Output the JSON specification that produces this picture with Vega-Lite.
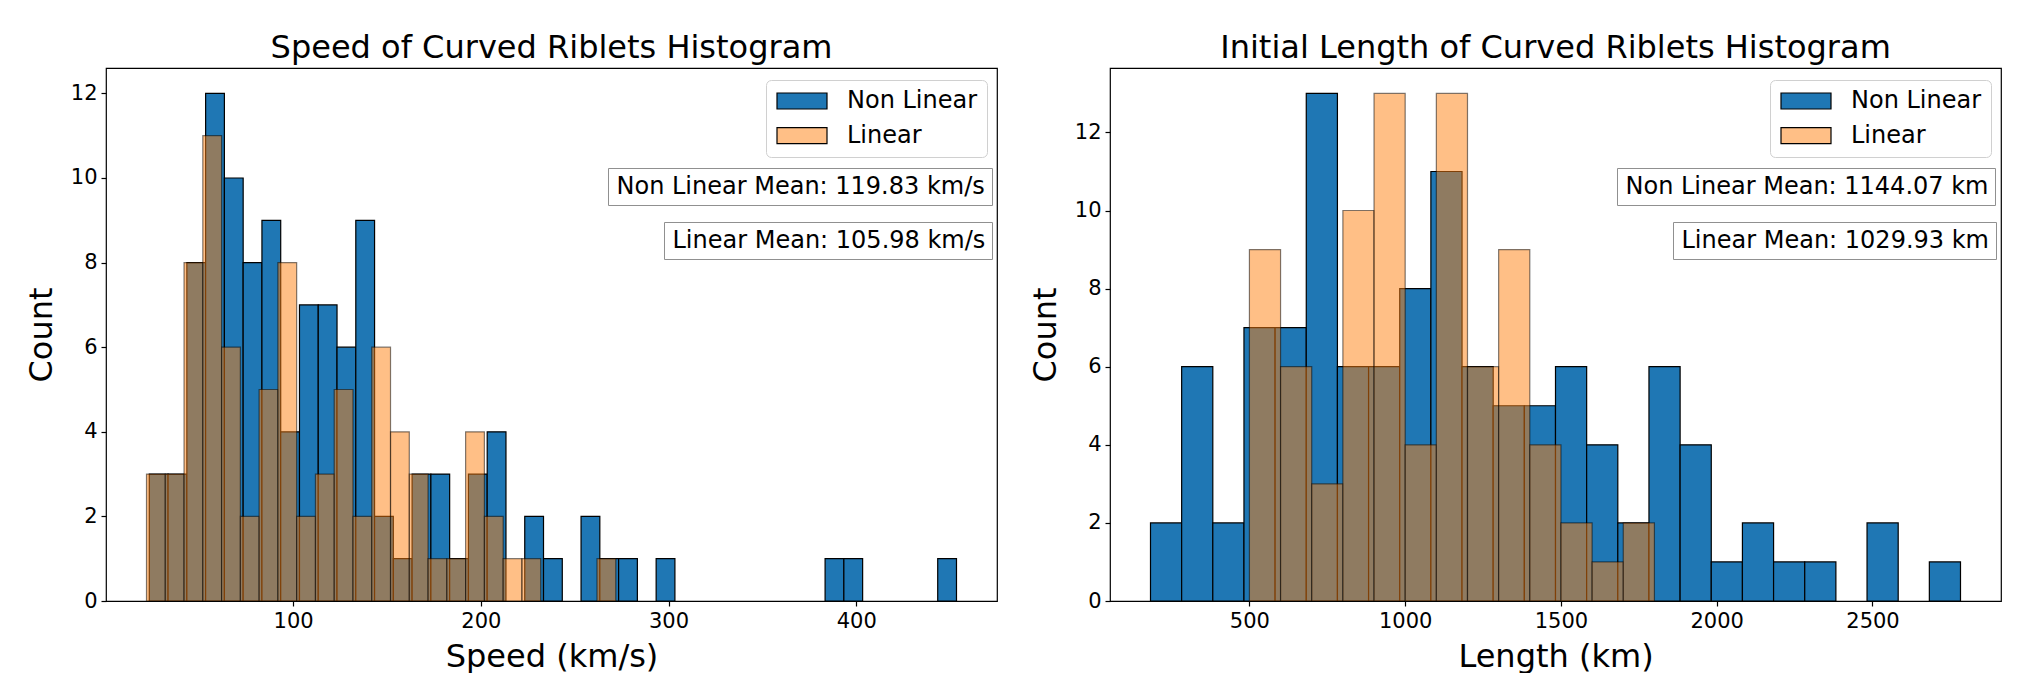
{
  "$schema": "https://vega.github.io/schema/vega-lite/v6.json",
  "background": "white",
  "padding": {"left": 24, "top": 31, "right": 10, "bottom": 0},
  "spacing": 30,
  "resolve": {"scale": {"color": "independent", "stroke": "independent", "shape": "independent"}, "legend": {"color": "independent", "stroke": "independent", "shape": "independent"}},
  "datasets": {
    "speed_nl": [
      {"series": "Non Linear", "bin_start": 23.4, "bin_end": 33.4, "count": 3},
      {"series": "Non Linear", "bin_start": 33.4, "bin_end": 43.4, "count": 3},
      {"series": "Non Linear", "bin_start": 43.4, "bin_end": 53.4, "count": 8},
      {"series": "Non Linear", "bin_start": 53.4, "bin_end": 63.4, "count": 12},
      {"series": "Non Linear", "bin_start": 63.4, "bin_end": 73.4, "count": 10},
      {"series": "Non Linear", "bin_start": 73.4, "bin_end": 83.4, "count": 8},
      {"series": "Non Linear", "bin_start": 83.4, "bin_end": 93.4, "count": 9},
      {"series": "Non Linear", "bin_start": 93.4, "bin_end": 103.4, "count": 4},
      {"series": "Non Linear", "bin_start": 103.4, "bin_end": 113.4, "count": 7},
      {"series": "Non Linear", "bin_start": 113.4, "bin_end": 123.4, "count": 7},
      {"series": "Non Linear", "bin_start": 123.4, "bin_end": 133.4, "count": 6},
      {"series": "Non Linear", "bin_start": 133.4, "bin_end": 143.4, "count": 9},
      {"series": "Non Linear", "bin_start": 143.4, "bin_end": 153.4, "count": 2},
      {"series": "Non Linear", "bin_start": 153.4, "bin_end": 163.4, "count": 1},
      {"series": "Non Linear", "bin_start": 163.4, "bin_end": 173.4, "count": 3},
      {"series": "Non Linear", "bin_start": 173.4, "bin_end": 183.4, "count": 3},
      {"series": "Non Linear", "bin_start": 183.4, "bin_end": 193.4, "count": 1},
      {"series": "Non Linear", "bin_start": 193.4, "bin_end": 203.4, "count": 3},
      {"series": "Non Linear", "bin_start": 203.4, "bin_end": 213.4, "count": 4},
      {"series": "Non Linear", "bin_start": 223.4, "bin_end": 233.4, "count": 2},
      {"series": "Non Linear", "bin_start": 233.4, "bin_end": 243.4, "count": 1},
      {"series": "Non Linear", "bin_start": 253.4, "bin_end": 263.4, "count": 2},
      {"series": "Non Linear", "bin_start": 263.4, "bin_end": 273.4, "count": 1},
      {"series": "Non Linear", "bin_start": 273.4, "bin_end": 283.4, "count": 1},
      {"series": "Non Linear", "bin_start": 293.4, "bin_end": 303.4, "count": 1},
      {"series": "Non Linear", "bin_start": 383.4, "bin_end": 393.4, "count": 1},
      {"series": "Non Linear", "bin_start": 393.4, "bin_end": 403.4, "count": 1},
      {"series": "Non Linear", "bin_start": 443.4, "bin_end": 453.4, "count": 1}
    ],
    "speed_l": [
      {"series": "Linear", "bin_start": 21.9, "bin_end": 31.9, "count": 3},
      {"series": "Linear", "bin_start": 31.9, "bin_end": 41.9, "count": 3},
      {"series": "Linear", "bin_start": 41.9, "bin_end": 51.9, "count": 8},
      {"series": "Linear", "bin_start": 51.9, "bin_end": 61.9, "count": 11},
      {"series": "Linear", "bin_start": 61.9, "bin_end": 71.9, "count": 6},
      {"series": "Linear", "bin_start": 71.9, "bin_end": 81.9, "count": 2},
      {"series": "Linear", "bin_start": 81.9, "bin_end": 91.9, "count": 5},
      {"series": "Linear", "bin_start": 91.9, "bin_end": 101.9, "count": 8},
      {"series": "Linear", "bin_start": 101.9, "bin_end": 111.9, "count": 2},
      {"series": "Linear", "bin_start": 111.9, "bin_end": 121.9, "count": 3},
      {"series": "Linear", "bin_start": 121.9, "bin_end": 131.9, "count": 5},
      {"series": "Linear", "bin_start": 131.9, "bin_end": 141.9, "count": 2},
      {"series": "Linear", "bin_start": 141.9, "bin_end": 151.9, "count": 6},
      {"series": "Linear", "bin_start": 151.9, "bin_end": 161.9, "count": 4},
      {"series": "Linear", "bin_start": 161.9, "bin_end": 171.9, "count": 3},
      {"series": "Linear", "bin_start": 171.9, "bin_end": 181.9, "count": 1},
      {"series": "Linear", "bin_start": 181.9, "bin_end": 191.9, "count": 1},
      {"series": "Linear", "bin_start": 191.9, "bin_end": 201.9, "count": 4},
      {"series": "Linear", "bin_start": 201.9, "bin_end": 211.9, "count": 2},
      {"series": "Linear", "bin_start": 211.9, "bin_end": 221.9, "count": 1},
      {"series": "Linear", "bin_start": 221.9, "bin_end": 231.9, "count": 1},
      {"series": "Linear", "bin_start": 261.9, "bin_end": 271.9, "count": 1}
    ],
    "length_nl": [
      {"series": "Non Linear", "bin_start": 182.5, "bin_end": 282.5, "count": 2},
      {"series": "Non Linear", "bin_start": 282.5, "bin_end": 382.5, "count": 6},
      {"series": "Non Linear", "bin_start": 382.5, "bin_end": 482.5, "count": 2},
      {"series": "Non Linear", "bin_start": 482.5, "bin_end": 582.5, "count": 7},
      {"series": "Non Linear", "bin_start": 582.5, "bin_end": 682.5, "count": 7},
      {"series": "Non Linear", "bin_start": 682.5, "bin_end": 782.5, "count": 13},
      {"series": "Non Linear", "bin_start": 782.5, "bin_end": 882.5, "count": 6},
      {"series": "Non Linear", "bin_start": 882.5, "bin_end": 982.5, "count": 6},
      {"series": "Non Linear", "bin_start": 982.5, "bin_end": 1082.5, "count": 8},
      {"series": "Non Linear", "bin_start": 1082.5, "bin_end": 1182.5, "count": 11},
      {"series": "Non Linear", "bin_start": 1182.5, "bin_end": 1282.5, "count": 6},
      {"series": "Non Linear", "bin_start": 1282.5, "bin_end": 1382.5, "count": 5},
      {"series": "Non Linear", "bin_start": 1382.5, "bin_end": 1482.5, "count": 5},
      {"series": "Non Linear", "bin_start": 1482.5, "bin_end": 1582.5, "count": 6},
      {"series": "Non Linear", "bin_start": 1582.5, "bin_end": 1682.5, "count": 4},
      {"series": "Non Linear", "bin_start": 1682.5, "bin_end": 1782.5, "count": 2},
      {"series": "Non Linear", "bin_start": 1782.5, "bin_end": 1882.5, "count": 6},
      {"series": "Non Linear", "bin_start": 1882.5, "bin_end": 1982.5, "count": 4},
      {"series": "Non Linear", "bin_start": 1982.5, "bin_end": 2082.5, "count": 1},
      {"series": "Non Linear", "bin_start": 2082.5, "bin_end": 2182.5, "count": 2},
      {"series": "Non Linear", "bin_start": 2182.5, "bin_end": 2282.5, "count": 1},
      {"series": "Non Linear", "bin_start": 2282.5, "bin_end": 2382.5, "count": 1},
      {"series": "Non Linear", "bin_start": 2482.5, "bin_end": 2582.5, "count": 2},
      {"series": "Non Linear", "bin_start": 2682.5, "bin_end": 2782.5, "count": 1}
    ],
    "length_l": [
      {"series": "Linear", "bin_start": 500, "bin_end": 600, "count": 9},
      {"series": "Linear", "bin_start": 600, "bin_end": 700, "count": 6},
      {"series": "Linear", "bin_start": 700, "bin_end": 800, "count": 3},
      {"series": "Linear", "bin_start": 800, "bin_end": 900, "count": 10},
      {"series": "Linear", "bin_start": 900, "bin_end": 1000, "count": 13},
      {"series": "Linear", "bin_start": 1000, "bin_end": 1100, "count": 4},
      {"series": "Linear", "bin_start": 1100, "bin_end": 1200, "count": 13},
      {"series": "Linear", "bin_start": 1200, "bin_end": 1300, "count": 6},
      {"series": "Linear", "bin_start": 1300, "bin_end": 1400, "count": 9},
      {"series": "Linear", "bin_start": 1400, "bin_end": 1500, "count": 4},
      {"series": "Linear", "bin_start": 1500, "bin_end": 1600, "count": 2},
      {"series": "Linear", "bin_start": 1600, "bin_end": 1700, "count": 1},
      {"series": "Linear", "bin_start": 1700, "bin_end": 1800, "count": 2}
    ]
  },
  "hconcat": [
    {
      "title": "Speed of Curved Riblets Histogram",
      "width": 891,
      "height": 533,
      "layer": [
        {
          "data": {"name": "speed_nl"},
          "mark": {"type": "rect", "stroke": "black", "strokeWidth": 1.2},
          "encoding": {
            "x": {"field": "bin_start", "type": "quantitative", "title": "Speed (km/s)",
                  "scale": {"domain": [0.33, 474.98], "nice": false, "zero": false},
                  "axis": {"values": [0, 100, 200, 300, 400], "format": "d"}},
            "x2": {"field": "bin_end"},
            "y": {"field": "count", "type": "quantitative", "title": "Count",
                  "scale": {"domain": [0, 12.6], "nice": false},
                  "axis": {"values": [0, 2, 4, 6, 8, 10, 12]}},
            "y2": {"datum": 0},
            "color": {"field": "series", "type": "nominal",
                      "scale": {"domain": ["Non Linear", "Linear"], "range": ["#1f77b4", "#ffbf86"]},
                      "legend": {"title": null, "orient": "none", "legendX": 660, "legendY": 12, "strokeColor": "#d0d0d0", "fillColor": "white", "cornerRadius": 5, "padding": 9, "labelFontSize": 24, "labelColor": "black", "labelLimit": 0, "symbolType": "M-1,-0.8H4V0.8H-1Z", "symbolSize": 400, "symbolStrokeColor": "black", "symbolStrokeWidth": 1.2, "symbolOpacity": 1, "labelOffset": 48, "rowPadding": 10.7}}
          }
        },
        {
          "data": {"name": "speed_l"},
          "mark": {"type": "rect", "fill": "#ff7f0e", "fillOpacity": 0.5, "stroke": "black", "strokeOpacity": 0.5, "strokeWidth": 1.2},
          "encoding": {
            "x": {"field": "bin_start", "type": "quantitative"},
            "x2": {"field": "bin_end"},
            "y": {"field": "count", "type": "quantitative"},
            "y2": {"datum": 0}
          }
        },
        {
          "data": {"values": [{"label": "Non Linear Mean: 119.83 km/s"}]},
          "mark": {"type": "point", "opacity": 0, "size": 1},
          "encoding": {
            "stroke": {"field": "label", "type": "nominal",
                       "legend": {"title": null, "orient": "none", "legendX": 502, "legendY": 100, "strokeColor": "#909090", "fillColor": "white", "padding": 6.5, "labelFontSize": 24, "labelColor": "black", "labelLimit": 0, "symbolSize": 1, "symbolOpacity": 0, "symbolStrokeWidth": 0.01, "labelOffset": -22}}
          }
        },
        {
          "data": {"values": [{"label2": "Linear Mean: 105.98 km/s"}]},
          "mark": {"type": "point", "opacity": 0, "size": 1},
          "encoding": {
            "shape": {"field": "label2", "type": "nominal",
                      "legend": {"title": null, "orient": "none", "legendX": 558, "legendY": 154, "strokeColor": "#909090", "fillColor": "white", "padding": 6.5, "labelFontSize": 24, "labelColor": "black", "labelLimit": 0, "symbolSize": 1, "symbolOpacity": 0, "symbolStrokeWidth": 0.01, "labelOffset": -22}}
          }
        }
      ]
    },
    {
      "title": "Initial Length of Curved Riblets Histogram",
      "width": 891,
      "height": 533,
      "layer": [
        {
          "data": {"name": "length_nl"},
          "mark": {"type": "rect", "stroke": "black", "strokeWidth": 1.2},
          "encoding": {
            "x": {"field": "bin_start", "type": "quantitative", "title": "Length (km)",
                  "scale": {"domain": [52.5, 2912.5], "nice": false, "zero": false},
                  "axis": {"values": [500, 1000, 1500, 2000, 2500], "format": "d"}},
            "x2": {"field": "bin_end"},
            "y": {"field": "count", "type": "quantitative", "title": "Count",
                  "scale": {"domain": [0, 13.65], "nice": false},
                  "axis": {"values": [0, 2, 4, 6, 8, 10, 12]}},
            "y2": {"datum": 0},
            "color": {"field": "series", "type": "nominal",
                      "scale": {"domain": ["Non Linear", "Linear"], "range": ["#1f77b4", "#ffbf86"]},
                      "legend": {"title": null, "orient": "none", "legendX": 660, "legendY": 12, "strokeColor": "#d0d0d0", "fillColor": "white", "cornerRadius": 5, "padding": 9, "labelFontSize": 24, "labelColor": "black", "labelLimit": 0, "symbolType": "M-1,-0.8H4V0.8H-1Z", "symbolSize": 400, "symbolStrokeColor": "black", "symbolStrokeWidth": 1.2, "symbolOpacity": 1, "labelOffset": 48, "rowPadding": 10.7}}
          }
        },
        {
          "data": {"name": "length_l"},
          "mark": {"type": "rect", "fill": "#ff7f0e", "fillOpacity": 0.5, "stroke": "black", "strokeOpacity": 0.5, "strokeWidth": 1.2},
          "encoding": {
            "x": {"field": "bin_start", "type": "quantitative"},
            "x2": {"field": "bin_end"},
            "y": {"field": "count", "type": "quantitative"},
            "y2": {"datum": 0}
          }
        },
        {
          "data": {"values": [{"label": "Non Linear Mean: 1144.07 km"}]},
          "mark": {"type": "point", "opacity": 0, "size": 1},
          "encoding": {
            "stroke": {"field": "label", "type": "nominal",
                       "legend": {"title": null, "orient": "none", "legendX": 507, "legendY": 100, "strokeColor": "#909090", "fillColor": "white", "padding": 6.5, "labelFontSize": 24, "labelColor": "black", "labelLimit": 0, "symbolSize": 1, "symbolOpacity": 0, "symbolStrokeWidth": 0.01, "labelOffset": -22}}
          }
        },
        {
          "data": {"values": [{"label2": "Linear Mean: 1029.93 km"}]},
          "mark": {"type": "point", "opacity": 0, "size": 1},
          "encoding": {
            "shape": {"field": "label2", "type": "nominal",
                      "legend": {"title": null, "orient": "none", "legendX": 563, "legendY": 154, "strokeColor": "#909090", "fillColor": "white", "padding": 6.5, "labelFontSize": 24, "labelColor": "black", "labelLimit": 0, "symbolSize": 1, "symbolOpacity": 0, "symbolStrokeWidth": 0.01, "labelOffset": -22}}
          }
        }
      ]
    }
  ],
  "config": {
    "font": "DejaVu Sans",
    "view": {"stroke": "black", "strokeWidth": 1.2},
    "axis": {"grid": false, "domain": false, "tickColor": "black", "tickSize": 5, "tickWidth": 1.2, "labelColor": "black", "labelFontSize": 21, "labelPadding": 4, "titleFontSize": 32, "titleFontWeight": "normal", "titleColor": "black"},
    "axisX": {"titlePadding": 10},
    "axisY": {"titlePadding": 12},
    "title": {"fontSize": 32, "fontWeight": "normal", "color": "black", "offset": 3}
  }
}
